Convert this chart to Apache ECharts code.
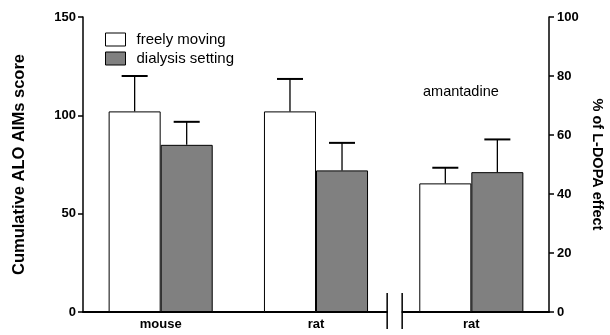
<!DOCTYPE html>
<html><head><meta charset="utf-8">
<script src="https://cdn.jsdelivr.net/npm/echarts@6/dist/echarts.min.js"></script>
<style>html,body{margin:0;padding:0;background:#fff}#c{width:610px;height:335px}</style>
</head><body><div id="c"></div>
<script>
// ---- data ----
var categories = ['mouse', 'rat', 'rat'];
var seriesNames = ['freely moving', 'dialysis setting'];
// left axis (Cumulative ALO AIMs score): mouse, rat
var freelyScore = [102, 102, '-'];
var freelyScoreSem = [18, 16.5, '-'];
var dialysisScore = [85, 72, '-'];
var dialysisScoreSem = [11.7, 14, '-'];
// right axis (% of L-DOPA effect): amantadine rat
var freelyPct = ['-', '-', 43.6];
var freelyPctSem = ['-', '-', 5.3];
var dialysisPct = ['-', '-', 47.4];
var dialysisPctSem = ['-', '-', 11.1];
var leftTicks = {min: 0, max: 150, interval: 50};
var rightTicks = {min: 0, max: 100, interval: 20};
var groupLabel = 'amantadine';

var FONT = '"Liberation Sans", Arial, sans-serif';
var GAP = 0.33;
var chart = echarts.init(document.getElementById('c'), null, {renderer: 'canvas'});

function errData(vals, sems) {
  var out = [];
  vals.forEach(function (v, i) { if (v !== '-') out.push([i, v, sems[i]]); });
  return out;
}
function errSeries(name, vals, sems, side, xi, yi) {
  return {
    type: 'custom', name: name + ' err', xAxisIndex: xi, yAxisIndex: yi, z: 5, silent: true,
    data: errData(vals, sems),
    renderItem: function (params, api) {
      var i = api.value(0), m = api.value(1), s = api.value(2);
      var band = api.size([1, 0])[0];
      var bw = band * (1 - GAP) / 2;
      var base = api.coord([i, m]);
      var top = api.coord([i, m + s]);
      var x = base[0] + side * bw / 2;
      var cw = bw / 2;
      return {type: 'group', children: [
        {type: 'line', shape: {x1: x, y1: base[1], x2: x, y2: top[1]}, style: {stroke: '#000', lineWidth: 1.3}},
        {type: 'line', shape: {x1: x - cw / 2, y1: top[1], x2: x + cw / 2, y2: top[1]}, style: {stroke: '#000', lineWidth: 2}}
      ]};
    }
  };
}
function barSeries(name, data, color, xi, yi) {
  return {
    type: 'bar', name: name, xAxisIndex: xi, yAxisIndex: yi, data: data,
    barGap: 0, barCategoryGap: (GAP * 100) + '%',
    itemStyle: {color: color, borderColor: '#000', borderWidth: 1},
    emphasis: {disabled: true}
  };
}
var axisLbl = {color: '#000', fontFamily: FONT, fontWeight: 'bold', fontSize: 13};
var option = {
  animation: false,
  grid: {left: 83, right: 61, top: 17, bottom: 23, containLabel: false, outerBoundsMode: 'none'},
  legend: {
    data: seriesNames, orient: 'vertical', left: 100, top: 27,
    itemWidth: 20, itemHeight: 13, itemGap: 4, icon: 'rect',
    itemStyle: {borderColor: '#000', borderWidth: 1},
    textStyle: {fontFamily: FONT, fontSize: 15, color: '#000', padding: [0, 0, 0, 6]},
    selectedMode: false
  },
  title: {text: groupLabel, left: 418, top: 79, textStyle: {fontFamily: FONT, fontSize: 14.5, fontWeight: 'normal', color: '#000'}},
  xAxis: [
    {type: 'category', data: categories, axisTick: {show: false},
     axisLine: {lineStyle: {color: '#000', width: 1.8}},
     axisLabel: Object.assign({margin: 6}, axisLbl)},
    {type: 'category', data: categories, show: false}
  ],
  yAxis: [
    {type: 'value', min: leftTicks.min, max: leftTicks.max, interval: leftTicks.interval,
     name: 'Cumulative ALO AIMs score', nameLocation: 'middle', nameGap: 55, nameRotate: 90,
     nameTextStyle: {fontFamily: FONT, fontWeight: 'bold', fontSize: 16.5, color: '#000'},
     splitLine: {show: false},
     axisLine: {show: true, lineStyle: {color: '#000', width: 1.5}},
     axisTick: {show: true, length: 5, lineStyle: {color: '#000', width: 1.5}},
     axisLabel: Object.assign({margin: 7}, axisLbl)},
    {type: 'value', position: 'right', min: rightTicks.min, max: rightTicks.max, interval: rightTicks.interval,
     name: '% of L-DOPA effect', nameLocation: 'middle', nameGap: 40, nameRotate: -90,
     nameTextStyle: {fontFamily: FONT, fontWeight: 'bold', fontSize: 14.5, color: '#000'},
     splitLine: {show: false},
     axisLine: {show: true, lineStyle: {color: '#000', width: 1.5}},
     axisTick: {show: true, length: 5, lineStyle: {color: '#000', width: 1.5}},
     axisLabel: Object.assign({margin: 8}, axisLbl)}
  ],
  series: [
    barSeries(seriesNames[0], freelyScore, '#ffffff', 0, 0),
    barSeries(seriesNames[1], dialysisScore, '#808080', 0, 0),
    barSeries(seriesNames[0], freelyPct, '#ffffff', 1, 1),
    barSeries(seriesNames[1], dialysisPct, '#808080', 1, 1),
    errSeries('f', freelyScore, freelyScoreSem, -1, 0, 0),
    errSeries('d', dialysisScore, dialysisScoreSem, 1, 0, 0),
    errSeries('fa', freelyPct, freelyPctSem, -1, 1, 1),
    errSeries('da', dialysisPct, dialysisPctSem, 1, 1, 1)
  ]
};
chart.setOption(option);
// axis break between second and third group
var xa = chart.convertToPixel({xAxisIndex: 0}, 1);
var xb = chart.convertToPixel({xAxisIndex: 0}, 2);
var bx = (xa + xb) / 2 + 1;
var by = chart.convertToPixel({yAxisIndex: 0}, 0);
chart.setOption({graphic: [
  {type: 'rect', shape: {x: bx - 7, y: by - 3, width: 14, height: 6}, style: {fill: '#fff'}, z: 100},
  {type: 'line', shape: {x1: bx - 7.5, y1: by - 19, x2: bx - 7.5, y2: by + 17}, style: {stroke: '#000', lineWidth: 1.5}, z: 101},
  {type: 'line', shape: {x1: bx + 7.5, y1: by - 19, x2: bx + 7.5, y2: by + 17}, style: {stroke: '#000', lineWidth: 1.5}, z: 101}
]});
</script></body></html>
